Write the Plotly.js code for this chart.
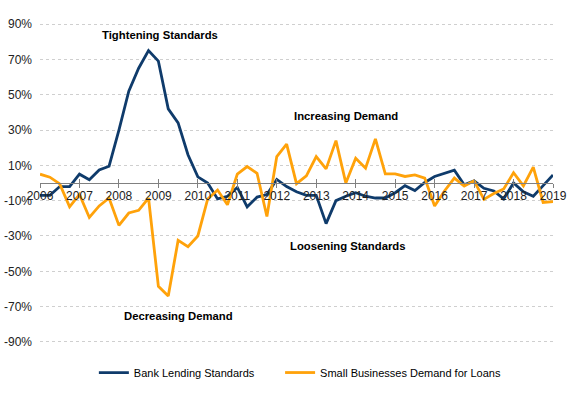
<!DOCTYPE html>
<html>
<head>
<meta charset="utf-8">
<script src="https://cdn.plot.ly/plotly-3.0.1.min.js"></script>
<style>
html,body{margin:0;padding:0;background:#fff;}
#chart{width:575px;height:399px;}
</style>
</head>
<body>
<div id="chart"></div>
<script>
// Quarterly data, 2006 Q1 .. 2019 Q1
const startYear = 2006;
const bankLendingStandards = [
  -7, -7, -2, -2,
  5, 1.8, 7.4, 9.5,
  30, 52, 65, 75,
  69, 42, 34, 16,
  3.5, 0, -9, -7.5,
  -2.5, -13.5, -8, -6.5,
  2, -2, -5, -7,
  -7, -23, -10, -7.5,
  -5.5, -7.5, -8.5, -8.5,
  -5.5, -1.5, -4.3, 0.3,
  3.7, 5.5, 7.3, -1,
  1.2, -3, -4.5, -9,
  0, -5, -7.5, -1.5,
  4.5
];
const smallBusinessDemand = [
  5, 3.3, -0.5, -13.5,
  -6.5, -19.5, -13, -8.5,
  -24, -17, -15.5, -8.5,
  -58.5, -64, -32.5, -36,
  -30, -9, -4, -12.3,
  5, 9.3, 5.5, -19,
  15, 22, -0.4, 4,
  15, 8, 24, 0,
  14, 8.4, 25, 5.2,
  5.2, 3.7, 4.6, 2.8,
  -13, -4.5, 2.8, -1.7,
  1.2, -9.3, -6, -3.4,
  5.8, -1.6, 9, -11,
  -10.5
];
const yearTicks = [2006,2007,2008,2009,2010,2011,2012,2013,2014,2015,2016,2017,2018,2019];
const yearLabels = ["2006","2007","2008","2009","2010","2011","2012","2013","2014","2015","2016","2017","2018","2019"];
const yTickVals = [-90,-70,-50,-30,-10,10,30,50,70,90];
const yTickText = ["-90%","-70%","-50%","-30%","-10%","10%","30%","50%","70%","90%"];
const annotationTexts = ["Tightening Standards","Increasing Demand","Loosening Standards","Decreasing Demand"];

const quarters = bankLendingStandards.map((_, i) => startYear + i / 4);

const FONT = "Arial, 'Liberation Sans', sans-serif";
const BLUE = "#0f3b6b";
const ORANGE = "#ffa20a";

const traces = [
  {x: quarters, y: bankLendingStandards, type: "scatter", mode: "lines",
   name: "Bank Lending Standards", line: {color: BLUE, width: 2.8}, legend: "legend"},
  {x: quarters, y: smallBusinessDemand, type: "scatter", mode: "lines",
   name: "Small Businesses Demand for Loans", line: {color: ORANGE, width: 2.8}, legend: "legend2"},
  {x: [yearTicks[0]], y: [0], xaxis: "x2", type: "scatter", mode: "lines",
   showlegend: false, hoverinfo: "skip", line: {width: 0}}
];

const annFont = {family: FONT, size: 11.3, color: "#000"};
const legFont = {family: FONT, size: 11, color: "#000"};
const layout = {
  width: 575, height: 399,
  margin: {l: 40, r: 22, t: 23, b: 49, pad: 0},
  paper_bgcolor: "#fff", plot_bgcolor: "#fff",
  font: {family: FONT, size: 12, color: "#222"},
  showlegend: true,
  legend: {orientation: "h", x: 0.105, xanchor: "left", y: -0.047, yanchor: "top",
           font: legFont, itemwidth: 30},
  legend2: {orientation: "h", x: 0.468, xanchor: "left", y: -0.047, yanchor: "top",
           font: legFont, itemwidth: 30},
  xaxis: {range: [2006, 2019], tickvals: yearTicks, ticktext: yearLabels,
          anchor: "free", position: 0.5, showgrid: false, zeroline: false,
          showline: true, linecolor: "#808080", linewidth: 1,
          ticks: "outside", ticklen: 4, tickcolor: "#808080", tickwidth: 1,
          tickfont: {family: FONT, size: 12, color: "#222"}, ticklabelstandoff: -2},
  xaxis2: {range: [2006, 2019], overlaying: "x", anchor: "free", position: 0.5,
           tickvals: yearTicks, showticklabels: false, showgrid: false, zeroline: false,
           showline: false, ticks: "inside", ticklen: 4, tickcolor: "#808080", tickwidth: 1},
  yaxis: {range: [-90.6, 90.6], tickvals: yTickVals, ticktext: yTickText,
          showgrid: true, gridcolor: "#cfcfcf", griddash: "dot", gridwidth: 1,
          zeroline: false, showline: false, ticks: "",
          tickfont: {family: FONT, size: 12, color: "#222"}, ticklabelstandoff: 7},
  annotations: [
    {x: 2009.05, y: 83.6, text: "<b>" + annotationTexts[0] + "</b>", showarrow: false, font: annFont},
    {x: 2013.75, y: 37.8, text: "<b>" + annotationTexts[1] + "</b>", showarrow: false, font: annFont},
    {x: 2013.8, y: -35.4, text: "<b>" + annotationTexts[2] + "</b>", showarrow: false, font: annFont},
    {x: 2009.5, y: -75.1, text: "<b>" + annotationTexts[3] + "</b>", showarrow: false, font: annFont}
  ]
};

Plotly.newPlot("chart", traces, layout, {displayModeBar: false, staticPlot: true});
</script>
</body>
</html>
